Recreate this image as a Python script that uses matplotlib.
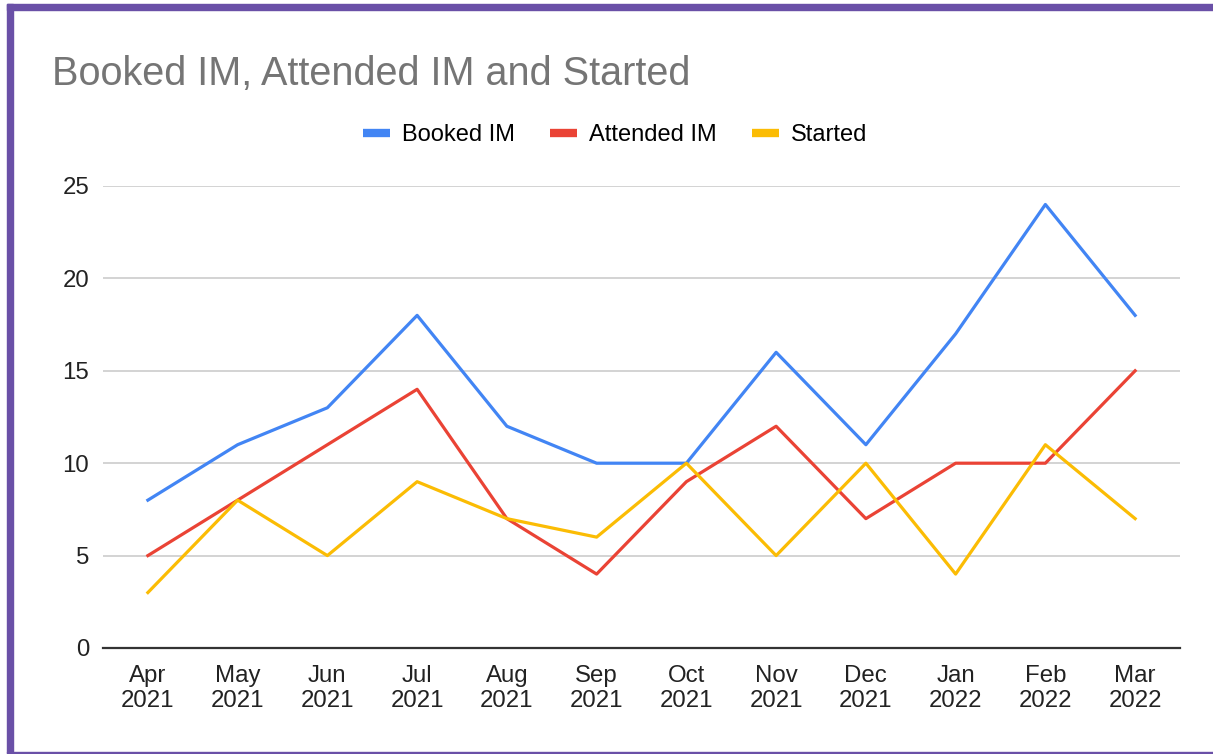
import matplotlib.pyplot as plt
from matplotlib.patches import Rectangle

plt.rcParams['font.family'] = ['Liberation Sans', 'DejaVu Sans']

months = ['Apr\n2021', 'May\n2021', 'Jun\n2021', 'Jul\n2021', 'Aug\n2021', 'Sep\n2021',
          'Oct\n2021', 'Nov\n2021', 'Dec\n2021', 'Jan\n2022', 'Feb\n2022', 'Mar\n2022']
booked = [8, 11, 13, 18, 12, 10, 10, 16, 11, 17, 24, 18]
attended = [5, 8, 11, 14, 7, 4, 9, 12, 7, 10, 10, 15]
started = [3, 8, 5, 9, 7, 6, 10, 5, 10, 4, 11, 7]

W, H = 1213, 754
fig = plt.figure(figsize=(W / 100, H / 100), dpi=100)
ax = fig.add_axes([103 / W, 1 - 648 / H, (1180 - 103) / W, (648 - 186) / H])

x = range(len(months))
ax.plot(x, booked, color='#4285F4', lw=2.3, label='Booked IM')
ax.plot(x, attended, color='#EA4335', lw=2.3, label='Attended IM')
ax.plot(x, started, color='#FBBC04', lw=2.3, label='Started')

ax.set_xlim(-0.5, len(months) - 0.5)
ax.set_ylim(0, 25)
ax.set_yticks([0, 5, 10, 15, 20, 25])
ax.set_xticks(list(x))
ax.set_xticklabels(months, linespacing=1.22)
ax.tick_params(axis='both', length=0, labelsize=17.3, colors='#222222')
ax.tick_params(axis='y', pad=10)
ax.tick_params(axis='x', pad=12)
ax.grid(axis='y', color='#cccccc', lw=1.2)
ax.set_axisbelow(True)
for s in ['top', 'right', 'left']:
    ax.spines[s].set_visible(False)
ax.spines['bottom'].set_color('#333333')
ax.spines['bottom'].set_linewidth(1.6)
ax.spines['bottom'].set_zorder(1)

fig.text(52 / W, 1 - 85 / H, 'Booked IM, Attended IM and Started',
         fontsize=28.5, color='#757575', ha='left', va='baseline')

fig.legend(loc='center', bbox_to_anchor=(615 / W, 1 - 135 / H), ncol=3, frameon=False,
           fontsize=17, handlelength=1.15, handleheight=0.5, columnspacing=1.5,
           handletextpad=0.5)
for h in fig.legends[0].legend_handles:
    h.set_linewidth(6)
    h.set_solid_capstyle('butt')

# purple frame of the screenshot
purple = '#6a50a7'
fig.patches.append(Rectangle((7 / W, 1 - 10 / H), 1, 6 / H, transform=fig.transFigure,
                             color=purple, zorder=5))
fig.patches.append(Rectangle((7 / W, 1 - 753 / H), 6 / W, 749 / H, transform=fig.transFigure,
                             color=purple, zorder=5))
fig.patches.append(Rectangle((7 / W, 1 - 753 / H), 1, 1.5 / H, transform=fig.transFigure,
                             color=purple, zorder=5))

fig.savefig('out.png', dpi=100)
